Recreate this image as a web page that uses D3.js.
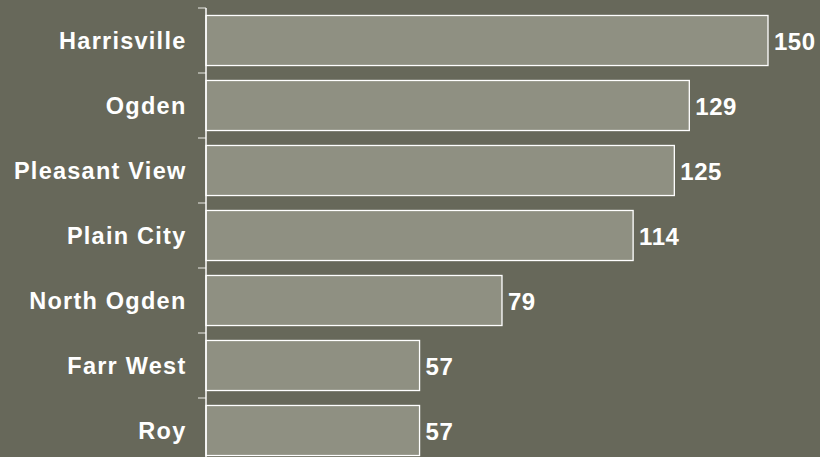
<!DOCTYPE html>
<html>
<head>
<meta charset="utf-8">
<script src="https://cdn.jsdelivr.net/npm/d3@7"></script>
<style>
  html, body { margin: 0; padding: 0; background: #67685a; }
  svg { display: block; }
  text { font-family: "Liberation Sans", Arial, sans-serif; font-weight: bold; fill: #ffffff; }
</style>
</head>
<body>
<svg id="chart" width="820" height="457"></svg>
<script>
// Cities and their counts
const cities = ["Harrisville", "Ogden", "Pleasant View", "Plain City", "North Ogden", "Farr West", "Roy"];
const counts = [150, 129, 125, 114, 79, 57, 57];

const width = 820, height = 457;
const margin = { left: 206, top: 8 };

const svg = d3.select("#chart");

svg.append("rect")
  .attr("width", width).attr("height", height)
  .attr("fill", "#67685a");

const y = d3.scaleBand()
  .domain(cities)
  .range([margin.top, margin.top + 65 * cities.length])
  .paddingInner(0.23)
  .paddingOuter(0.115);

const x = d3.scaleLinear()
  .domain([0, 150])
  .range([margin.left, 768]);

// Bars
svg.append("g")
  .selectAll("rect")
  .data(cities)
  .join("rect")
  .attr("x", x(0))
  .attr("y", d => y(d))
  .attr("width", (d, i) => x(counts[i]) - x(0))
  .attr("height", y.bandwidth())
  .attr("fill", "#8f9082")
  .attr("stroke", "#ffffff")
  .attr("stroke-width", 1.3);

// Category axis: ticks at band boundaries
const step = y.step();
const axisG = svg.append("g");
const bounds = d3.range(cities.length + 1).map(i => margin.top + i * step);
axisG.selectAll("line.tick")
  .data(bounds)
  .join("line")
  .attr("class", "tick")
  .attr("x1", margin.left - 8).attr("x2", margin.left)
  .attr("y1", d => d).attr("y2", d => d)
  .attr("stroke", "#d6d6cf")
  .attr("stroke-width", 1.2);
axisG.append("line")
  .attr("x1", margin.left).attr("x2", margin.left)
  .attr("y1", margin.top).attr("y2", height + 10)
  .attr("stroke", "#ffffff")
  .attr("stroke-width", 1.5);

// Category labels
svg.append("g")
  .selectAll("text")
  .data(cities)
  .join("text")
  .attr("x", 186.5)
  .attr("y", d => y(d) + y.bandwidth() / 2 + 8.5)
  .attr("text-anchor", "end")
  .attr("font-size", 23.5)
  .attr("letter-spacing", 1.25)
  .text(d => d);

// Value labels
svg.append("g")
  .selectAll("text")
  .data(cities)
  .join("text")
  .attr("x", (d, i) => x(counts[i]) + 6)
  .attr("y", d => y(d) + y.bandwidth() / 2 + 9)
  .attr("font-size", 24)
  .attr("letter-spacing", 0.5)
  .text((d, i) => counts[i]);
</script>
</body>
</html>
